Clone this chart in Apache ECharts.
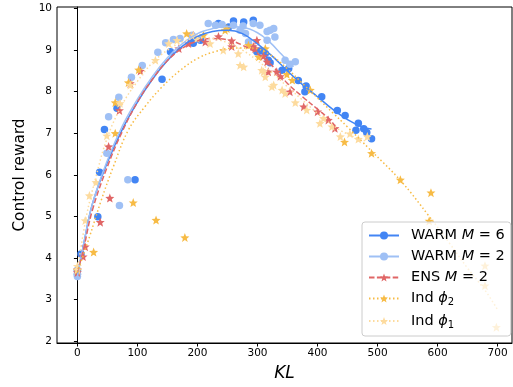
<!DOCTYPE html>
<html>
<head>
<meta charset="utf-8">
<script src="https://cdn.jsdelivr.net/npm/echarts@6/dist/echarts.min.js"></script>
<style>
html,body{margin:0;padding:0;background:#fff;}
#chart{width:513px;height:387px;}
</style>
</head>
<body>
<div id="chart"></div>
<script>
// tick labels
var xTicks = [0, 100, 200, 300, 400, 500, 600, 700];
var yTicks = [2, 3, 4, 5, 6, 7, 8, 9, 10];

// WARM M=6 : points [KL, reward] and fitted curve
var warm6Pts = [[0,3.6],[0,3.7],[6,4.09],[34,4.99],[37,6.06],[45,7.09],[66,7.6],[96,5.88],[141,8.3],[155,8.96],
  [193,9.17],[205,9.24],[235,9.64],[252,9.56],[260,9.7],[277,9.68],[293,9.72],[299,8.96],[304,8.98],[313,8.92],
  [318,8.76],[321,8.7],[341,8.52],[352,8.56],[368,8.27],[381,8.14],[379,8.0],[407,7.88],[433,7.55],[446,7.43],
  [464,7.07],[468,7.24],[477,7.11],[482,7.02],[490,6.87]];
var warm6Fit = [[0,3.6],[10,4.3],[25,5.3],[50,6.3],[75,7.1],[100,7.75],[125,8.3],[150,8.75],[175,9.1],[200,9.33],
  [225,9.45],[250,9.48],[275,9.4],[300,9.15],[325,8.85],[350,8.5],[375,8.17],[400,7.88],[425,7.58],[450,7.33],
  [475,7.15],[490,7.1]];

// WARM M=2
var warm2Pts = [[0,3.55],[0,3.62],[49,6.52],[52,7.4],[69,7.87],[70,5.26],[84,5.88],[90,8.35],[108,8.63],[134,8.95],
  [147,9.18],[160,9.26],[171,9.28],[191,9.36],[218,9.64],[230,9.6],[241,9.62],[260,9.6],[271,9.48],[276,9.58],
  [280,9.4],[285,9.2],[293,9.64],[304,9.6],[316,9.45],[321,9.48],[327,9.52],[329,9.32],[316,9.24],[346,8.76],
  [354,8.66],[363,8.72]];
var warm2Fit = [[0,3.55],[10,4.3],[25,5.3],[50,6.35],[75,7.18],[100,7.82],[125,8.37],[150,8.82],[175,9.16],[200,9.4],
  [225,9.52],[250,9.57],[275,9.55],[300,9.42],[320,9.2],[340,8.9],[360,8.6]];

// ENS M=2
var ensPts = [[0,3.65],[0,3.72],[9.5,4.03],[13,4.27],[38,4.86],[54,5.44],[52,6.68],[70,7.55],[88,8.2],[105,8.5],
  [169,9.04],[185,9.16],[193,9.36],[213,9.2],[235,9.33],[257,9.23],[257,9.09],[293,9.09],[299,9.24],[296,9.04],
  [310,8.86],[316,8.72],[318,8.48],[332,8.48],[338,8.37],[354,8.0],[377,7.64],[400,7.52],[418,7.32],[429,7.12]];
var ensFit = [[0,3.65],[10,4.2],[25,5.15],[50,6.2],[75,7.05],[100,7.75],[125,8.3],[150,8.75],[175,9.05],[200,9.22],
  [225,9.28],[250,9.25],[275,9.12],[300,8.92],[325,8.62],[350,8.2],[375,7.88],[400,7.58],[421,7.32],[430,7.15]];

// Ind phi2
var ind2Pts = [[0,3.7],[27,4.14],[63,7.0],[63,7.74],[85,8.22],[93,5.33],[102,8.53],[131,4.91],[179,4.49],[182,9.4],
  [210,9.36],[246,9.48],[249,9.52],[285,9.12],[302,8.84],[313,9.04],[349,8.42],[358,8.28],[388,8.04],[445,6.79],
  [490,6.52],[538,5.88],[586,4.89],[589,5.57],[679,3.81],[679,3.33],[698,2.33]];
var ind2Fit = [[0,3.65],[20,4.5],[40,5.4],[60,6.2],[85,7.08],[113,7.65],[140,8.1],[170,8.5],[200,8.8],[230,8.97],
  [260,9.05],[290,9.05],[320,8.9],[350,8.55],[375,8.2],[400,7.85],[425,7.5],[450,7.15],[488,6.6],[539,5.85],
  [586,5.0],[620,4.35],[650,3.75],[680,3.2],[700,2.75]];

// Ind phi1
var ind1Pts = [[0,3.72],[0,3.8],[13,4.9],[20,5.5],[31,5.82],[49,6.94],[71,7.72],[88,8.16],[130,8.76],[152,9.16],
  [166,9.24],[193,9.36],[199,9.28],[221,9.16],[243,9.0],[268,8.92],[271,8.64],[277,8.6],[307,8.52],[310,8.48],
  [313,8.36],[324,8.12],[327,8.16],[341,8.04],[346,7.96],[363,7.74],[382,7.56],[404,7.24],[410,7.36],[424,7.16],
  [438,6.92],[454,6.99],[468,6.86],[483,6.92]];
var ind1Fit = [[0,3.7],[15,5.0],[30,5.9],[50,6.9],[75,7.7],[100,8.25],[125,8.7],[150,9.0],[175,9.2],[200,9.3],
  [225,9.28],[250,9.18],[275,9.0],[300,8.75],[325,8.45],[350,8.12],[375,7.8],[400,7.48],[425,7.2],[450,6.98],[483,6.8]];

var C6 = '#4285f4', C2 = '#9fc0f5', CE = '#e06666', CI2 = '#f7bb45', CI1 = '#fddb9e';
var FONT = 'DejaVu Sans';
var STAR = 'path://M0,-10L2.6,-3.4L9.5,-3.1L4.1,1.3L6,8.1L0,4.3L-6,8.1L-4.1,1.3L-9.5,-3.1L-2.6,-3.4Z';

function fit(name, data, color, type, sym, w) {
  return {
    name: name, type: 'line', data: data, smooth: 0.4, showSymbol: false,
    symbol: sym, symbolSize: sym === 'circle' ? 7.5 : 9,
    lineStyle: {color: color, width: w, type: type},
    itemStyle: {color: color}, silent: true
  };
}
function pts(name, data, color, sym) {
  return {
    name: name, type: 'scatter', data: data, symbol: sym,
    symbolSize: sym === 'circle' ? 7.5 : 9,
    itemStyle: {color: color, opacity: 1}, silent: true
  };
}

var labels = {
  'warm6': '{r|WARM }{i|M}{r| = 6}',
  'warm2': '{r|WARM }{i|M}{r| = 2}',
  'ens': '{r|ENS }{i|M}{r| = 2}',
  'ind2': '{r|Ind }{i|ϕ}{s|2}',
  'ind1': '{r|Ind }{i|ϕ}{s|1}'
};

var chart = echarts.init(document.getElementById('chart'), null, {renderer: 'canvas'});
chart.setOption({
  animation: false,
  grid: {left: 57, top: 7, right: 1, bottom: 43, show: true, borderColor: '#000', borderWidth: 1},
  xAxis: {
    type: 'value', min: -34, max: 724,
    name: 'KL', nameLocation: 'middle', nameGap: 22,
    nameTextStyle: {fontFamily: FONT, fontSize: 17, fontStyle: 'italic', color: '#000'},
    axisLine: {lineStyle: {color: '#000', width: 1}},
    axisTick: {show: true, length: 3.5, lineStyle: {color: '#000'}, customValues: xTicks},
    axisLabel: {fontFamily: FONT, fontSize: 10.5, color: '#000', margin: 5, customValues: xTicks},
    splitLine: {show: false}
  },
  yAxis: {
    type: 'value', min: 1.95, max: 10.04,
    name: 'Control reward', nameLocation: 'middle', nameGap: 29,
    nameTextStyle: {fontFamily: FONT, fontSize: 15.3, color: '#000'},
    axisLine: {lineStyle: {color: '#000', width: 1}},
    axisTick: {show: true, length: 3.5, lineStyle: {color: '#000'}, customValues: yTicks},
    axisLabel: {fontFamily: FONT, fontSize: 10.5, color: '#000', margin: 5, customValues: yTicks},
    splitLine: {show: false}
  },
  legend: {
    orient: 'vertical', left: 362, top: 222,
    data: ['warm6', 'warm2', 'ens', 'ind2', 'ind1'],
    backgroundColor: 'rgba(255,255,255,0.8)', borderColor: '#ccc', borderWidth: 1, borderRadius: 3,
    padding: [6, 6, 6, 6], itemWidth: 30, itemHeight: 10, itemGap: 6,
    formatter: function (n) { return labels[n]; },
    textStyle: {
      padding: [0, 0, 0, 7],
      rich: {
        r: {fontFamily: FONT, fontSize: 14.5, color: '#000', lineHeight: 18},
        i: {fontFamily: FONT, fontSize: 14.5, color: '#000', fontStyle: 'italic', lineHeight: 18},
        s: {fontFamily: FONT, fontSize: 10, color: '#000', lineHeight: 10, verticalAlign: 'bottom'}
      }
    }
  },
  series: [
    pts('p6', warm6Pts, C6, 'circle'),
    fit('warm6', warm6Fit, C6, 'solid', 'circle', 1.5),
    pts('p2', warm2Pts, C2, 'circle'),
    fit('warm2', warm2Fit, C2, 'solid', 'circle', 1.5),
    pts('pe', ensPts, CE, STAR),
    fit('ens', ensFit, CE, [5.5, 2.4], STAR, 1.5),
    pts('pi2', ind2Pts, CI2, STAR),
    fit('ind2', ind2Fit, CI2, [1.5, 2.5], STAR, 1.5),
    pts('pi1', ind1Pts, CI1, STAR),
    fit('ind1', ind1Fit, CI1, [1.5, 2.5], STAR, 1.5)
  ]
});
</script>
</body>
</html>
